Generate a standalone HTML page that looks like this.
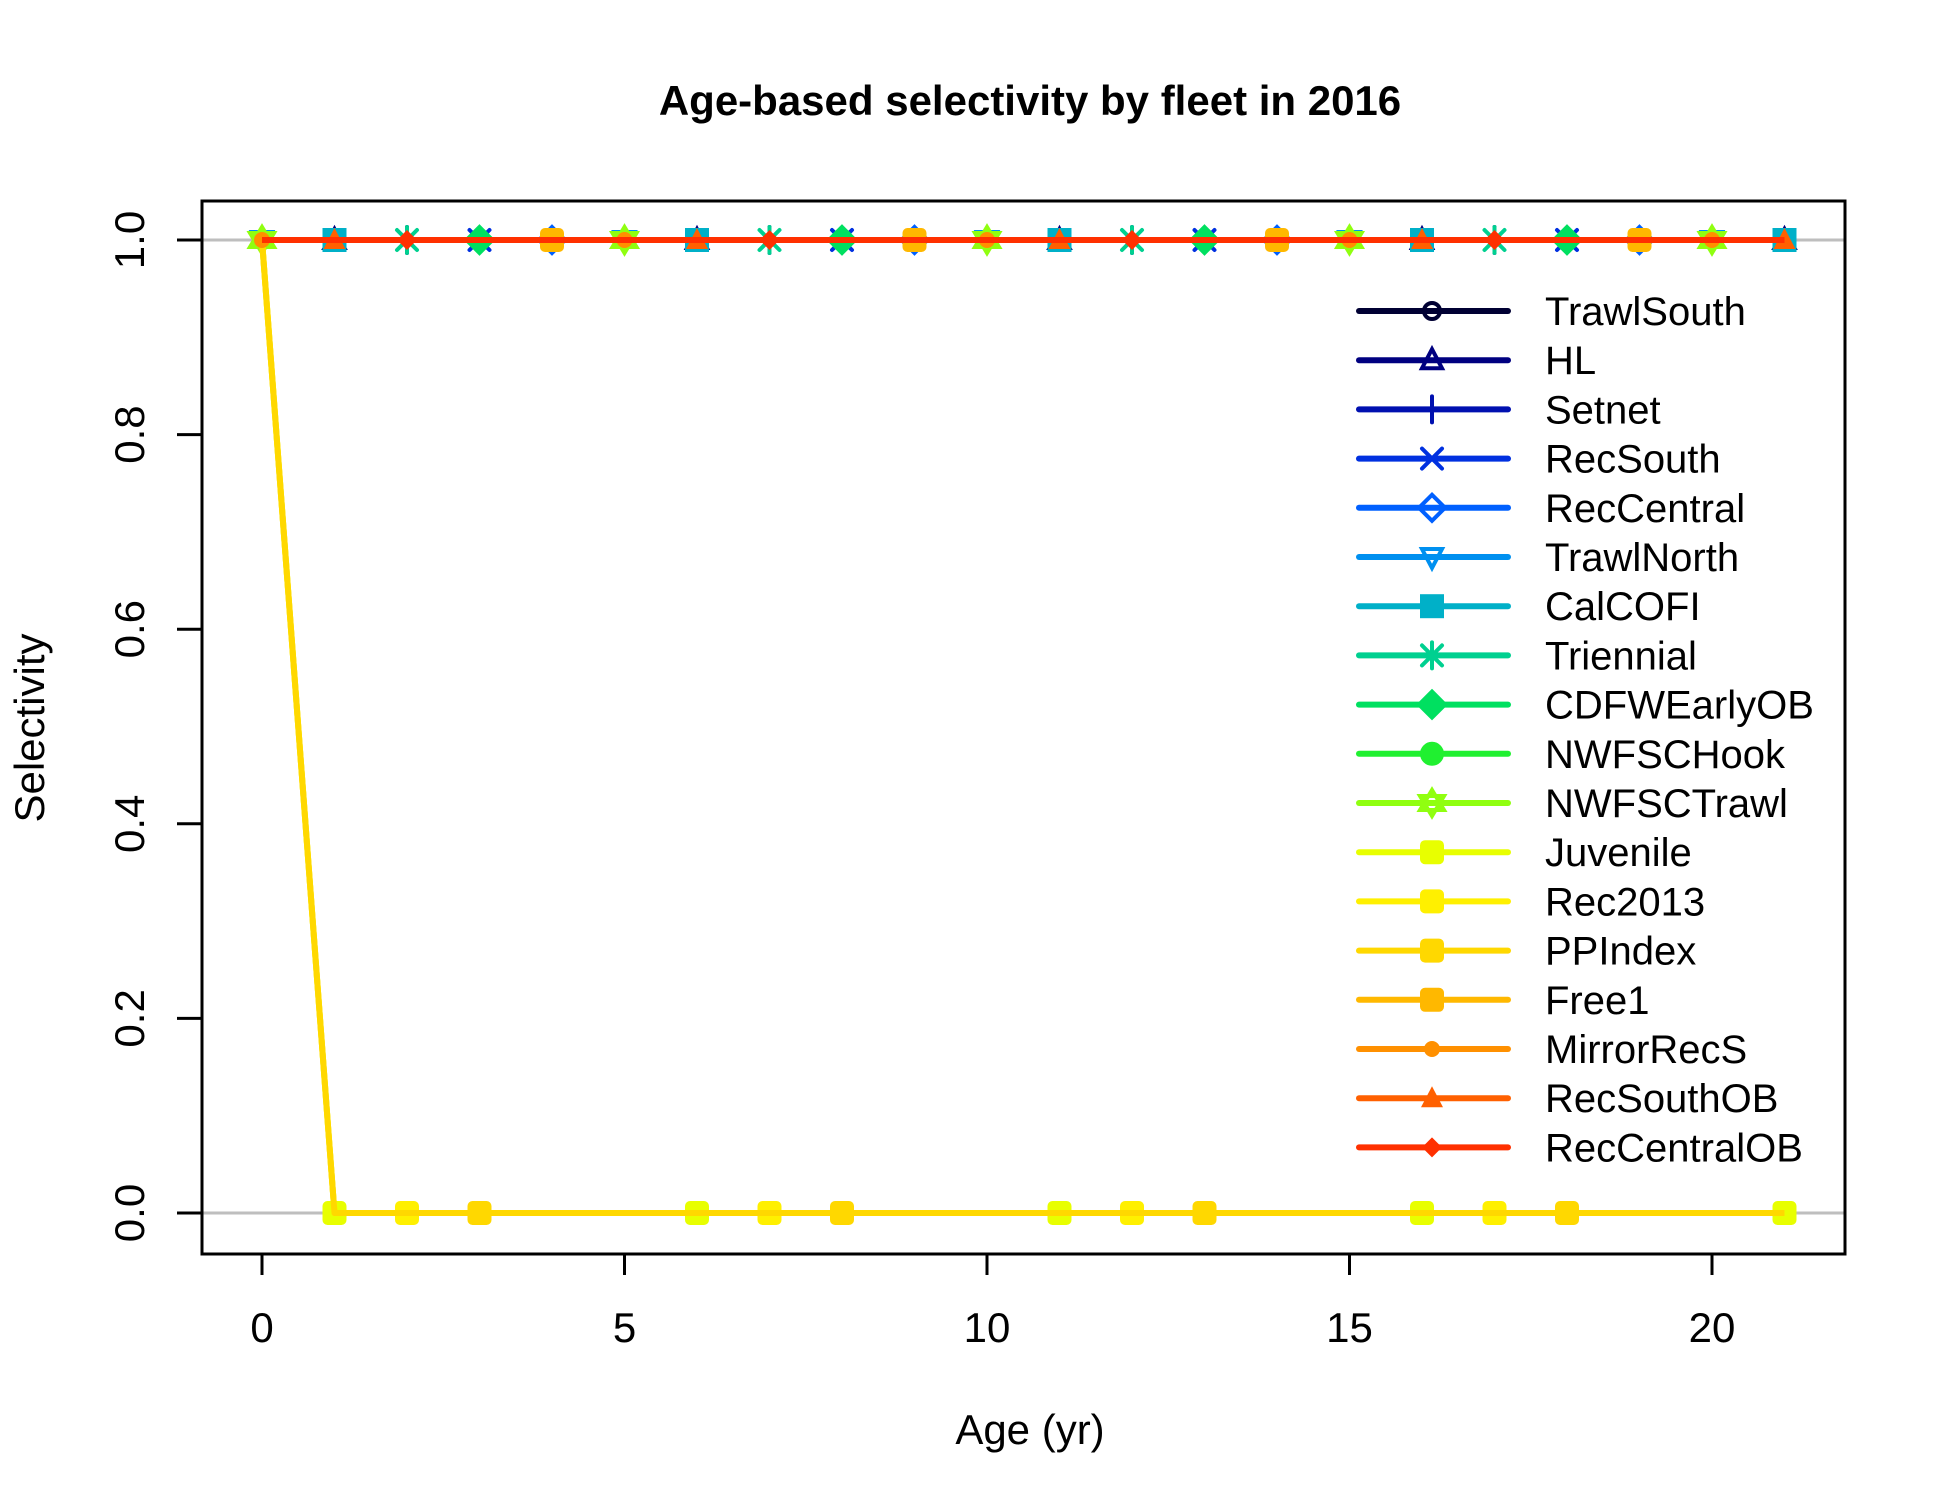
<!DOCTYPE html>
<html><head><meta charset="utf-8"><style>
html,body{margin:0;padding:0;background:#fff;}
svg{display:block;font-family:"Liberation Sans",Arial,sans-serif;}
</style></head><body>
<svg id="chart" width="1950" height="1500" viewBox="0 0 1950 1500" xmlns="http://www.w3.org/2000/svg">
<text x="1030" y="115" text-anchor="middle" font-size="42" font-weight="bold">Age-based selectivity by fleet in 2016</text>
<text x="1030" y="1444" text-anchor="middle" font-size="42">Age (yr)</text>
<text transform="translate(44,728) rotate(-90)" text-anchor="middle" font-size="42">Selectivity</text>
<g id="gridg"></g><g id="series"></g><g id="axes"></g><g id="legend"></g>
<rect x="202" y="201" width="1643" height="1053" fill="none" stroke="#000" stroke-width="3"/>
</svg>
<script>
const fleets=["TrawlSouth","HL","Setnet","RecSouth","RecCentral","TrawlNorth","CalCOFI","Triennial","CDFWEarlyOB","NWFSCHook","NWFSCTrawl","Juvenile","Rec2013","PPIndex","Free1","MirrorRecS","RecSouthOB","RecCentralOB"];
const colors=["#000033","#000080","#0010B0","#0030E0","#0060FF","#0090F0","#00B0C8","#00D090","#00E060","#20F030","#90FF10","#E8FF00","#FFF000","#FFD800","#FFB800","#FF9000","#FF6000","#FF3000"];
const pchs=[1,2,3,4,5,6,7,8,9,10,11,12,13,14,15,16,17,18];
const ages=[0,1,2,3,4,5,6,7,8,9,10,11,12,13,14,15,16,17,18,19,20,21];
const zeroFleets=["Juvenile","Rec2013","PPIndex"];
const xTicks=[0,5,10,15,20];
const yTicks=[0,0.2,0.4,0.6,0.8,1.0];
const NS="http://www.w3.org/2000/svg";
const X=a=>262+a*72.5, Y=v=>1213-v*973;
function mk(tag,at,parent){const e=document.createElementNS(NS,tag);for(const k in at)e.setAttribute(k,at[k]);parent.appendChild(e);return e;}
const g=document.getElementById('series'),ax=document.getElementById('axes'),lg=document.getElementById('legend'),gr=document.getElementById('gridg');
[0,1].forEach(v=>{const l=mk('line',{x1:202,x2:1845,y1:Y(v),y2:Y(v),stroke:'#BEBEBE','stroke-width':3},gr);

});
function marker(p,cx,cy,c,parent){
  const s=10,sw=4;const st={stroke:c,'stroke-width':sw,fill:'none','stroke-linecap':'round'};
  const G=mk('g',{},parent);
  const tri=(d)=>mk('polygon',Object.assign({points:`${cx-s},${cy+d*s*0.8} ${cx+s},${cy+d*s*0.8} ${cx},${cy-d*s*1.1}`},st),G);
  switch(p){
    case 1:mk('circle',Object.assign({cx,cy,r:s*0.8},st),G);break;
    case 2:tri(1);break;
    case 3:mk('path',Object.assign({d:`M${cx-s*1.3},${cy}H${cx+s*1.3}M${cx},${cy-s*1.3}V${cy+s*1.3}`},st),G);break;
    case 4:mk('path',Object.assign({d:`M${cx-s},${cy-s}L${cx+s},${cy+s}M${cx-s},${cy+s}L${cx+s},${cy-s}`},st),G);break;
    case 5:mk('polygon',Object.assign({points:`${cx},${cy-s*1.3} ${cx+s*1.3},${cy} ${cx},${cy+s*1.3} ${cx-s*1.3},${cy}`},st),G);break;
    case 6:tri(-1);break;
    case 7:mk('rect',{x:cx-s,y:cy-s,width:2*s,height:2*s,fill:c,stroke:c,'stroke-width':sw},G);break;
    case 8:mk('path',Object.assign({d:`M${cx-s*1.3},${cy}H${cx+s*1.3}M${cx},${cy-s*1.3}V${cy+s*1.3}M${cx-s},${cy-s}L${cx+s},${cy+s}M${cx-s},${cy+s}L${cx+s},${cy-s}`},st),G);break;
    case 9:mk('polygon',{points:`${cx},${cy-s*1.3} ${cx+s*1.3},${cy} ${cx},${cy+s*1.3} ${cx-s*1.3},${cy}`,fill:c,stroke:c,'stroke-width':sw},G);break;
    case 10:mk('circle',{cx,cy,r:s,fill:c,stroke:c,'stroke-width':sw},G);break;
    case 11:mk('path',{d:`M${cx-s*1.2},${cy+s*0.7}L${cx+s*1.2},${cy+s*0.7}L${cx},${cy-s*1.3}ZM${cx-s*1.2},${cy-s*0.7}L${cx+s*1.2},${cy-s*0.7}L${cx},${cy+s*1.3}Z`,fill:c,stroke:c,'stroke-width':sw},G);break;
    case 12:case 13:case 14:case 15:mk('rect',{x:cx-s,y:cy-s,width:2*s,height:2*s,rx:3,fill:c,stroke:c,'stroke-width':sw},G);break;
    case 16:mk('circle',{cx,cy,r:s*0.8,fill:c},G);break;
    case 17:mk('polygon',{points:`${cx-s*1.1},${cy+s*0.9} ${cx+s*1.1},${cy+s*0.9} ${cx},${cy-s*1.2}`,fill:c},G);break;
    case 18:mk('polygon',{points:`${cx},${cy-s} ${cx+s},${cy} ${cx},${cy+s} ${cx-s},${cy}`,fill:c},G);break;
  }
  return G;
}
fleets.forEach((f,i)=>{
  const vals=ages.map(a=>zeroFleets.includes(f)?(a===0?1:0):1);
  const sg=mk('g',{},g);
  
  
  const pl=mk('polyline',{points:ages.map((a,j)=>X(a)+','+Y(vals[j])).join(' '),fill:'none',stroke:colors[i],'stroke-width':6,'stroke-linejoin':'round'},sg);
  
  
  ages.forEach((a,j)=>{ if(a%5!==i%5) return;
    const m=marker(pchs[i],X(a),Y(vals[j]),colors[i],sg);
    
    
  });
  const ly=311+i*49.2;
  const le=mk('g',{},lg);
  
  
  mk('line',{x1:1359,x2:1508,y1:ly,y2:ly,stroke:colors[i],'stroke-width':6,'stroke-linecap':'round'},le);
  marker(pchs[i],1432,ly,colors[i],le);
  const t=mk('text',{x:1545,y:ly+14,'font-size':40},le);t.textContent=f;
});
xTicks.forEach(v=>{const t=mk('g',{},ax);
  
  
  mk('line',{x1:X(v),x2:X(v),y1:1254,y2:1275,stroke:'#000','stroke-width':3},t);
  const tx=mk('text',{x:X(v),y:1342,'font-size':42,'text-anchor':'middle'},t);tx.textContent=v;});
yTicks.forEach(v=>{const t=mk('g',{},ax);
  
  
  mk('line',{x1:177,x2:202,y1:Y(v),y2:Y(v),stroke:'#000','stroke-width':3},t);
  const tx=mk('text',{transform:`translate(144,${Y(v)}) rotate(-90)`,'font-size':42,'text-anchor':'middle'},t);tx.textContent=v.toFixed(1);});
</script>
</body></html>
